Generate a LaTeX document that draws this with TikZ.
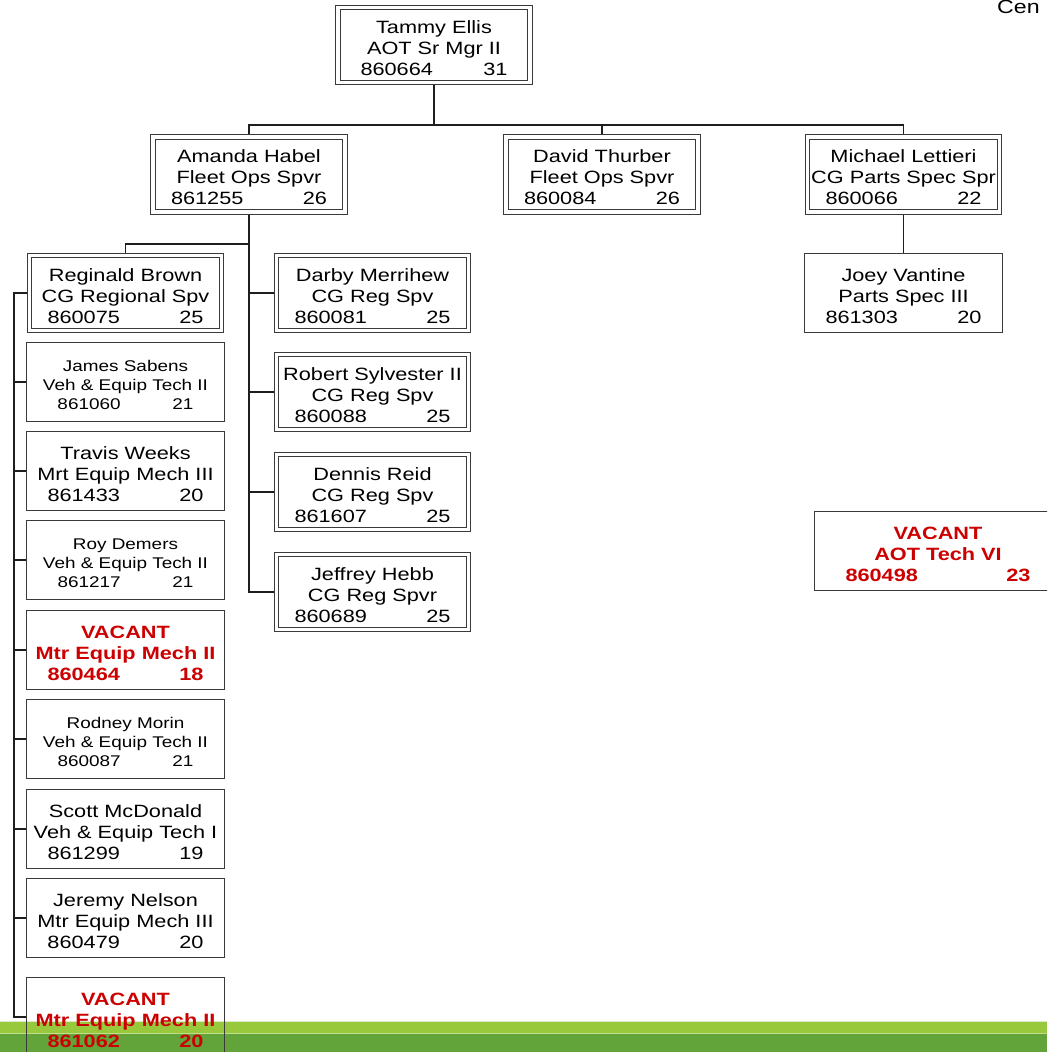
\documentclass[tikz,border=0pt]{standalone}
\usepackage{fontspec}
\setmainfont[FakeStretch=1.22]{Liberation Sans}
\usetikzlibrary{backgrounds}

\definecolor{boxline}{HTML}{3A3A3A}
\definecolor{linkline}{HTML}{1E1E1E}
\definecolor{vacred}{HTML}{CC0000}
\definecolor{barlight}{HTML}{98C93C}
\definecolor{bardark}{HTML}{62A43A}
\definecolor{barsep}{HTML}{C2DD8E}
\definecolor{baredge}{HTML}{DCE9C6}

% third line of a card: position number on the left, grade on the right
\newcommand\idline[3][156pt]{\makebox[#1]{#2\hfill#3}}
\newcommand\regfont{\fontsize{17.8pt}{21pt}\selectfont}
\newcommand\smallfont{\fontsize{15.5pt}{19pt}\selectfont}
\newcommand\topstrut{\rule{0pt}{19pt}}

\tikzset{
  card/.style={draw=boxline, line width=1.2pt, minimum width=198pt,
    minimum height=79pt, inner sep=0pt, align=center, font=\regfont,
    text=black},
  dcard/.style={card, line width=1.1pt, double=white, double distance=3.2pt,
    minimum width=192pt, minimum height=75pt},
  vacant/.style={text=vacred, font=\regfont\bfseries},
  smallcard/.style={font=\smallfont},
  link/.style={draw=linkline, line width=1.5pt},
}

\begin{document}
\begin{tikzpicture}[x=1pt, y=-1pt]
\useasboundingbox (0,0) rectangle (1047,1052);
\clip (0,0) rectangle (1047,1052);

% heading fragment
\node[anchor=base west, font=\fontsize{19pt}{22pt}\selectfont, inner sep=0pt]
  (heading) at (997,13.5) {Cen};

% top level
\node[dcard] (tammy) at (434,45)
  {\topstrut Tammy Ellis\\AOT Sr Mgr II\\\idline[147pt]{860664}{31}};

% supervisors
\node[dcard] (amanda) at (249,174.5)
  {\topstrut Amanda Habel\\Fleet Ops Spvr\\\idline{861255}{26}};
\node[dcard] (david) at (602,174.5)
  {\topstrut David Thurber\\Fleet Ops Spvr\\\idline{860084}{26}};
\node[dcard] (michael) at (903.5,174.5)
  {\topstrut Michael Lettieri\\CG Parts Spec Spr\\\idline{860066}{22}};
\node[card] (joey) at (903.5,293)
  {\topstrut Joey Vantine\\Parts Spec III\\\idline{861303}{20}};

% regional supervisors under Amanda Habel
\node[dcard] (reginald) at (125.5,293)
  {\topstrut Reginald Brown\\CG Regional Spv\\\idline{860075}{25}};
\node[dcard] (darby) at (372.5,293)
  {\topstrut Darby Merrihew\\CG Reg Spv\\\idline{860081}{25}};
\node[dcard] (robert) at (372.5,392)
  {\topstrut Robert Sylvester II\\CG Reg Spv\\\idline{860088}{25}};
\node[dcard] (dennis) at (372.5,492)
  {\topstrut Dennis Reid\\CG Reg Spv\\\idline{861607}{25}};
\node[dcard] (jeffrey) at (372.5,592)
  {\topstrut Jeffrey Hebb\\CG Reg Spvr\\\idline{860689}{25}};

% staff under Reginald Brown
\node[card, smallcard] (james) at (125.5,382)
  {\rule{0pt}{17pt}James Sabens\\Veh \& Equip Tech II\\\idline[136pt]{861060}{21}};
\node[card] (travis) at (125.5,471)
  {\topstrut Travis Weeks\\Mrt Equip Mech III\\\idline{861433}{20}};
\node[card, smallcard] (roy) at (125.5,560)
  {\rule{0pt}{17pt}Roy Demers\\Veh \& Equip Tech II\\\idline[136pt]{861217}{21}};
\node[card, vacant] (vacone) at (125.5,650)
  {\topstrut VACANT\\Mtr Equip Mech II\\\idline{860464}{18}};
\node[card, smallcard] (rodney) at (125.5,739)
  {\rule{0pt}{17pt}Rodney Morin\\Veh \& Equip Tech II\\\idline[136pt]{860087}{21}};
\node[card] (scott) at (125.5,829)
  {\topstrut Scott McDonald\\Veh \& Equip Tech I\\\idline{861299}{19}};
\node[card] (jeremy) at (125.5,918)
  {\topstrut Jeremy Nelson\\Mtr Equip Mech III\\\idline{860479}{20}};
\node[card, vacant] (vactwo) at (125.5,1017)
  {\topstrut VACANT\\Mtr Equip Mech II\\\idline{861062}{20}};

% unattached vacancy
\node[card, vacant, minimum width=247pt] (aot) at (938,551)
  {\topstrut VACANT\\AOT Tech VI\\\idline[185pt]{860498}{23}};

\begin{pgfonlayer}{background}
  % footer band
  \fill[bardark] (0,1033.5) rectangle (1047,1052);
  \fill[barlight] (0,1022) rectangle (1047,1033);
  \fill[barsep] (0,1033) rectangle (1047,1034);
  \fill[baredge] (0,1021.3) rectangle (1047,1022);

  % first level
  \coordinate (busT) at (434,125);
  \draw[link] (tammy.south) -- (busT);
  \draw[link] (amanda.north) -- (amanda.north |- busT)
              -- (michael.north |- busT) -- (michael.north);
  \draw[link] (david.north) -- (david.north |- busT);
  \draw[link] (michael.south) -- (joey.north);

  % Amanda Habel's branch
  \coordinate (busA) at (249,244);
  \draw[link] (amanda.south) -- (amanda.south |- jeffrey.west) -- (jeffrey.west);
  \draw[link] (amanda.south |- busA) -- (reginald.north |- busA) -- (reginald.north);
  \foreach \n in {darby, robert, dennis}
    \draw[link] (amanda.south |- \n.west) -- (\n.west);

  % Reginald Brown's spine
  \coordinate (spine) at (14,293);
  \draw[link] (reginald.west) -- (spine) -- (spine |- vactwo.west) -- (vactwo.west);
  \foreach \n in {james, travis, roy, vacone, rodney, scott, jeremy}
    \draw[link] (spine |- \n.west) -- (\n.west);
\end{pgfonlayer}
\end{tikzpicture}
\end{document}
